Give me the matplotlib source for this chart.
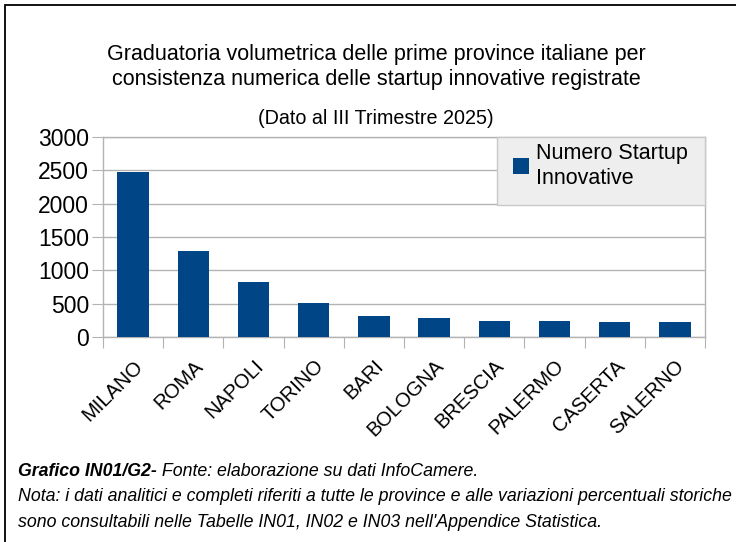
import matplotlib
matplotlib.use('Agg')
import matplotlib.pyplot as plt
from matplotlib.patches import Rectangle

province = ['MILANO', 'ROMA', 'NAPOLI', 'TORINO', 'BARI', 'BOLOGNA',
            'BRESCIA', 'PALERMO', 'CASERTA', 'SALERNO']
startup = [2470, 1293, 825, 508, 312, 282, 237, 237, 222, 222]
y_ticks = [0, 500, 1000, 1500, 2000, 2500, 3000]

titolo = ('Graduatoria volumetrica delle prime province italiane per\n'
          'consistenza numerica delle startup innovative registrate')
sottotitolo = '(Dato al III Trimestre 2025)'
fonte_bold = 'Grafico IN01/G2-'
fonte = ' Fonte: elaborazione su dati InfoCamere.'
nota = ('Nota: i dati analitici e completi riferiti a tutte le province e alle variazioni percentuali storiche\n'
        "sono consultabili nelle Tabelle IN01, IN02 e IN03 nell'Appendice Statistica.")

plt.rcParams['font.family'] = ['Liberation Sans', 'DejaVu Sans']

BLUE = '#004586'
GRID = '#b3b3b3'
W, H = 736, 542

fig = plt.figure(figsize=(W/100, H/100), dpi=100)
ax = fig.add_axes([103/W, 1-337/H, 602/W, 200/H])

x = range(len(province))
ax.bar(x, startup, width=0.52, color=BLUE, label='Numero Startup\nInnovative', zorder=3)
ax.set_xlim(-0.5, len(province)-0.5)
ax.set_ylim(0, 3000)
ax.set_yticks(y_ticks)
ax.tick_params(axis='y', labelsize=16.5, length=8, color=GRID, pad=2)
ax.yaxis.grid(True, color=GRID, linewidth=1, zorder=0)

# ticks at the category boundaries, labels at centres
ax.set_xticks([i - 0.5 for i in range(len(province)+1)])
ax.set_xticklabels([])
ax.set_xticks(list(x), minor=True)
ax.set_xticklabels(province, minor=True, rotation=45, ha='right', va='top',
                   rotation_mode='anchor', fontsize=14.5)
ax.tick_params(axis='x', which='major', length=8, color=GRID)
ax.tick_params(axis='x', which='minor', length=0, pad=14)
for s in ax.spines.values():
    s.set_color(GRID)
    s.set_linewidth(1)

# legend box drawn by hand, legend itself without frame
lx0 = (497-103)/602
ly0 = (337-205)/200
ax.add_patch(Rectangle((lx0, ly0), 1-lx0, 1-ly0, transform=ax.transAxes,
                       facecolor='#eeeeee', edgecolor='#c8c8c8', linewidth=1,
                       zorder=5, clip_on=False))
leg = ax.legend(loc='upper left', bbox_to_anchor=((513-103)/602, (337-143)/200),
                borderaxespad=0, borderpad=0, fontsize=15.5, frameon=False,
                handlelength=0.75, handleheight=0.75, handletextpad=0.33)
leg.set_zorder(6)
for t in leg.get_texts():
    t.set_linespacing(1.22)

fig.text(0.511, 1-67/H, titolo, ha='center', va='center', fontsize=15.5, linespacing=1.22)
fig.text(0.511, 1-119/H, sottotitolo, ha='center', va='center', fontsize=14.2)

# border of the original frame
fig.add_artist(Rectangle((5/W, -0.05), 1.0, 1-5/H+0.05, transform=fig.transFigure,
                         fill=False, edgecolor='black', linewidth=1.3))

t1 = fig.text(18/W, 1-472/H, fonte_bold, fontsize=12.8, style='italic', weight='bold',
              ha='left', va='center')
fig.canvas.draw()
bb = t1.get_window_extent(fig.canvas.get_renderer())
fig.text(bb.x1/W, 1-472/H, fonte, fontsize=12.8, style='italic', ha='left', va='center')
fig.text(18/W, 1-509.5/H, nota, fontsize=12.8, style='italic', ha='left', va='center',
         linespacing=1.7)

fig.savefig('out.png', dpi=100)
